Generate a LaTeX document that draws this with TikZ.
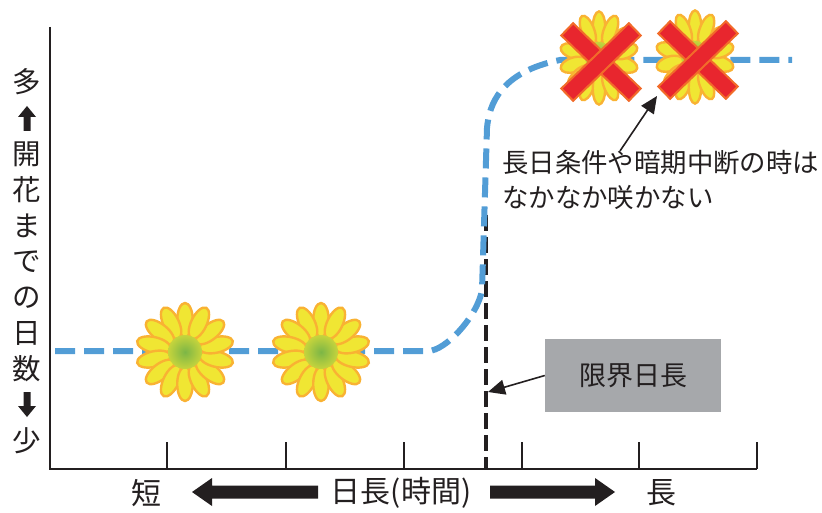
\documentclass[tikz,border=0pt]{standalone}
\usepackage{fontspec}
\setmainfont{Noto Sans CJK JP}
\usetikzlibrary{arrows.meta}

\definecolor{ink}{HTML}{231F20}
\definecolor{curveblue}{HTML}{529DD6}
\definecolor{petalfill}{HTML}{F0E633}
\definecolor{petaledge}{HTML}{F9B233}
\definecolor{discgreen}{HTML}{7CB646}
\definecolor{discrim}{HTML}{C6D43C}
\definecolor{crossred}{HTML}{E8262E}
\definecolor{crossedge}{HTML}{F26B2A}
\definecolor{boxgray}{HTML}{A6A8AB}

\tikzset{
  axisline/.style={draw=ink, line width=2.6pt},
  tickline/.style={draw=ink, line width=1.6pt},
  curve/.style={draw=curveblue, line width=6pt, dash pattern=on 20pt off 9pt},
  limitline/.style={draw=ink, line width=4.5pt, dash pattern=on 16pt off 6pt},
  petal/.style={fill=petalfill, draw=petaledge, line width=2.4pt},
  crossbar/.style={fill=crossred, draw=crossedge, line width=2pt},
  pointer/.style={draw=ink, line width=1.6pt, -{Triangle[length=17pt,width=15pt]}},
  ylab/.style={font=\fontsize{28.5}{28.5}\selectfont, text=ink, inner sep=0pt},
  xlab/.style={font=\fontsize{30}{30}\selectfont, text=ink, inner sep=0pt},
  notetext/.style={font=\fontsize{26.4}{26.4}\selectfont, text=ink, inner sep=0pt, anchor=west},
  graybox/.style={fill=boxgray, minimum width=176pt, minimum height=73pt,
    inner sep=0pt, font=\fontsize{27}{27}\selectfont, text=ink},
  flower/.pic={
    \foreach \a in {0,25.714,...,340}{
      \draw[petal, rotate=\a+90] (32,0) ellipse (17 and 7.8);
    }
    \shade[inner color=discgreen, outer color=discrim] (0,0) circle (17);
  },
  crossmark/.pic={
    \foreach \a in {-44,44}{
      \draw[crossbar, rotate=\a] (-47,-8.5) -- (47,-8.5) -- (47,8.5) -- (-47,8.5) -- cycle;
    }
  }
}

\begin{document}
\begin{tikzpicture}[x=1pt, y=-1pt]
  \useasboundingbox (0,0) rectangle (822,513);

  % critical day length marker
  \draw[limitline] (486,215) -- (486,469);

  % response curve
  \draw[curve] (55,351) -- (428,351)
    .. controls (446,351) and (478,315) .. (482,290)
    -- (487,128)
    .. controls (489,105) and (500,72) .. (560,60)
    -- (792,60);

  % axes and ticks
  \draw[axisline] (50,27) -- (50,469) -- (757,469);
  \foreach \t in {167,286,404,522,639,757}{
    \draw[tickline] (\t,469) -- (\t,442);
  }

  % flowers in bloom
  \pic at (185,352) {flower};
  \pic at (321,352) {flower};

  % flowers that fail to bloom
  \pic[xscale=0.8, yscale=0.95] at (599,58) {flower};
  \pic[xscale=0.8, yscale=0.95] at (695,57) {flower};
  \pic at (601,62) {crossmark};
  \pic at (698,60) {crossmark};

  % vertical axis label
  \node[ylab] (yl1) at (27,82) {多};
  \fill[ink] (27,106) -- (36,117) -- (30.5,117) -- (30.5,131) -- (23.5,131) -- (23.5,117) -- (18,117) -- cycle;
  \node[ylab] (yl2) at (27,154) {開};
  \node[ylab] (yl3) at (27,190) {花};
  \node[ylab] (yl4) at (27,226) {ま};
  \node[ylab] (yl5) at (27,262) {で};
  \node[ylab] (yl6) at (27,298) {の};
  \node[ylab] (yl7) at (27,333) {日};
  \node[ylab] (yl8) at (27,369) {数};
  \fill[ink] (27,417) -- (36,406) -- (30.5,406) -- (30.5,392) -- (23.5,392) -- (23.5,406) -- (18,406) -- cycle;
  \node[ylab] (yl9) at (27,441) {少};

  % horizontal axis label
  \node[xlab] (short) at (146,493) {短};
  \node[xlab] (daylen) at (401,493) {日長(時間)};
  \node[xlab] (long) at (661,493) {長};
  \fill[ink] (192,492) -- (212,478) -- (212,485.5) -- (318,485.5) -- (318,498.5) -- (212,498.5) -- (212,506) -- cycle;
  \fill[ink] (615,492) -- (595,478) -- (595,485.5) -- (490,485.5) -- (490,498.5) -- (595,498.5) -- (595,506) -- cycle;

  % note on long-day conditions
  \node[notetext] (note1) at (502,163) {長日条件や暗期中断の時は};
  \node[notetext] (note2) at (502,197) {なかなか咲かない};
  \coordinate (notetop) at (620,151);
  \coordinate (crosstip) at (657,96);
  \draw[pointer] (notetop) -- (crosstip);

  % critical day length label
  \node[graybox] (limit) at (633,375.5) {限界日長};
  \coordinate (limitpoint) at (488,392);
  \draw[pointer] (limit.west) -- (limitpoint);
\end{tikzpicture}
\end{document}
